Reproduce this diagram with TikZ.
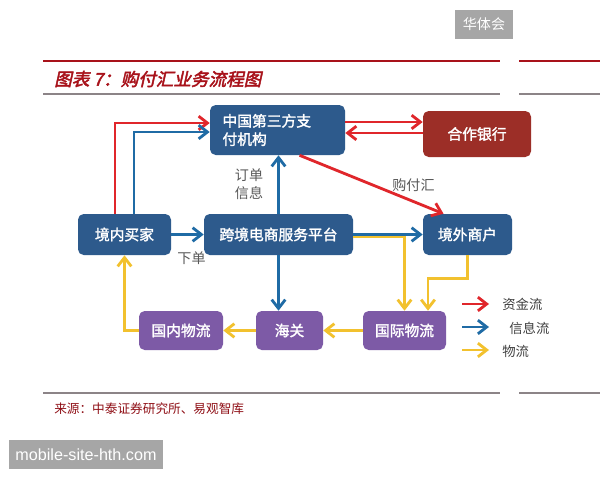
\documentclass[tikz,border=0pt]{standalone}
\usepackage{fontspec}
\setmainfont{Noto Sans CJK SC}
\newfontfamily\boxfont[FakeBold=1.8]{Noto Sans CJK SC}
\newfontfamily\titlefont[FakeBold=2.5,FakeSlant=0.22]{Noto Sans CJK SC}
\newfontfamily\badgefont{Liberation Sans}
\usetikzlibrary{positioning, arrows.meta, calc}
\definecolor{colorbox}{HTML}{2D5A8C}
\definecolor{colorbank}{HTML}{9C2E27}
\definecolor{colorlog}{HTML}{7D5AA6}
\definecolor{colorcash}{HTML}{E0262B}
\definecolor{colorinfo}{HTML}{1F6BA5}
\definecolor{colorgoods}{HTML}{F2C12E}
\definecolor{colortitle}{HTML}{A8121A}
\definecolor{colorrule}{HTML}{8C8487}
\definecolor{colorbadge}{HTML}{A6A6A6}
\newcommand{\pxu}{0.025cm}

\begin{document}
\begin{tikzpicture}[
    x=0.025cm, y=-0.025cm,
    % filled rounded boxes, white text
    box/.style={
        rectangle,
        rounded corners=4pt,
        fill=colorbox,
        draw=none,
        align=center,
        inner sep=2pt,
        text=white,
        font=\boxfont\fontsize{10.5}{13}\selectfont
    },
    bankbox/.style={box, fill=colorbank},
    logbox/.style={box, fill=colorlog},
    badge/.style={
        rectangle,
        fill=colorbadge,
        text=white,
        inner sep=0pt
    },
    note/.style={
        text=black!65,
        font=\fontsize{10}{12.5}\selectfont,
        align=center,
        inner sep=0pt
    },
    cash/.style={
        -{Straight Barb[length=2.2mm, width=3.4mm]},
        colorcash,
        line width=2pt
    },
    info/.style={cash, colorinfo},
    goods/.style={cash, colorgoods}
]
\useasboundingbox (0,0) rectangle (600,480);
\fill[white] (0,0) rectangle (600,480);

% ==============================
% Header and footer
% ==============================
\node[badge, minimum width=58*\pxu, minimum height=29*\pxu,
      font=\fontsize{10}{12}\selectfont] (brand) at (484,24.5) {华体会};

\draw[colortitle, line width=2pt] (43,61) -- (500,61);
\draw[colortitle, line width=2pt] (519,61) -- (600,61);
\node[anchor=west, inner sep=0pt, text=colortitle,
      font=\titlefont\fontsize{12.5}{15}\selectfont] (title) at (54,79)
      {图表 7：购付汇业务流程图};
\draw[colorrule, line width=0.8pt] (43,94) -- (500,94);
\draw[colorrule, line width=0.8pt] (519,94) -- (600,94);

\draw[colorrule, line width=0.8pt] (43,393) -- (500,393);
\draw[colorrule, line width=0.8pt] (519,393) -- (600,393);
\node[anchor=west, inner sep=0pt, text=colortitle!85!black,
      font=\fontsize{9}{11}\selectfont] (source) at (54,409)
      {来源：中泰证券研究所、易观智库};

\node[badge, minimum width=154*\pxu, minimum height=29*\pxu,
      font=\badgefont\fontsize{11.5}{13}\selectfont] (site) at (86,454.5)
      {mobile-site-hth.com};

% ==============================
% Row 1: payment institution and bank
% ==============================
\node[box, align=left, text width=110*\pxu, minimum width=135*\pxu,
      minimum height=50*\pxu] (pay) at (277.5,130) {中国第三方支\\付机构};
\node[bankbox, minimum width=108*\pxu, minimum height=46*\pxu] (bank)
      at (477,134) {合作银行};

% ==============================
% Row 2: buyer, platform, merchant
% ==============================
\node[box, minimum width=93*\pxu, minimum height=41*\pxu] (buyer)
      at (124.5,234.5) {境内买家};
\node[box, minimum width=149*\pxu, minimum height=41*\pxu] (platform)
      at (278.5,234.5) {跨境电商服务平台};
\node[box, minimum width=89*\pxu, minimum height=41*\pxu] (merchant)
      at (467.5,234.5) {境外商户};

% ==============================
% Row 3: logistics
% ==============================
\node[logbox, minimum width=84*\pxu, minimum height=39*\pxu] (domlog)
      at (181,330.5) {国内物流};
\node[logbox, minimum width=67*\pxu, minimum height=39*\pxu] (customs)
      at (289.5,330.5) {海关};
\node[logbox, minimum width=83*\pxu, minimum height=39*\pxu] (intlog)
      at (404.5,330.5) {国际物流};

% ==============================
% Arrows
% ==============================
% money flow
\draw[cash] ([xshift=-9.5*\pxu]buyer.north) |- ([yshift=7*\pxu]pay.west);
\draw[cash] ([yshift=8*\pxu]pay.east) -- ([yshift=8*\pxu]pay.east -| bank.west);
\draw[cash] ([yshift=-3*\pxu]pay.east -| bank.west) -- ([yshift=-3*\pxu]pay.east);
\draw[cash] ([xshift=22*\pxu]pay.south) -- ([xshift=-24*\pxu]merchant.north);

% information flow
\draw[info] ([xshift=9.5*\pxu]buyer.north) |- ([yshift=-2*\pxu]pay.west);
\draw[info] (buyer.east) -- (platform.west);
\draw[info] (platform.north) -- (platform.north |- pay.south);
\draw[info] (platform.east) -- (merchant.west);
\draw[info] (platform.south) -- (platform.south |- customs.north);

% goods flow
\draw[goods] ([yshift=-2.5*\pxu]platform.east) -| (intlog.north);
\draw[goods] (merchant.south) -- ++(0,23) -| ([xshift=23.5*\pxu]intlog.north);
\draw[goods] (intlog.west) -- (customs.east);
\draw[goods] (customs.west) -- (domlog.east);
\draw[goods] (domlog.west) -| (buyer.south);

% connector labels
\node[note] (order) at (191.5,258) {下单};
\node[note] (orderinfo) at (249,184) {订单\\信息};
\node[note] (fx) at (413.5,185) {购付汇};

% ==============================
% Legend
% ==============================
\coordinate (keycash) at (462,304);
\coordinate (keyinfo) at (462,327);
\coordinate (keygoods) at (462,350);
\draw[cash] (keycash) -- ++(27,0);
\draw[info] (keyinfo) -- ++(27,0);
\draw[goods] (keygoods) -- ++(27,0);
\node[note, anchor=west, font=\fontsize{9.5}{11}\selectfont, text=black!75]
      (labcash) at (502,304) {资金流};
\node[note, anchor=west, font=\fontsize{9.5}{11}\selectfont, text=black!75]
      (labinfo) at (509,328) {信息流};
\node[note, anchor=west, font=\fontsize{9.5}{11}\selectfont, text=black!75]
      (labgoods) at (502,351) {物流};

\end{tikzpicture}
\end{document}
